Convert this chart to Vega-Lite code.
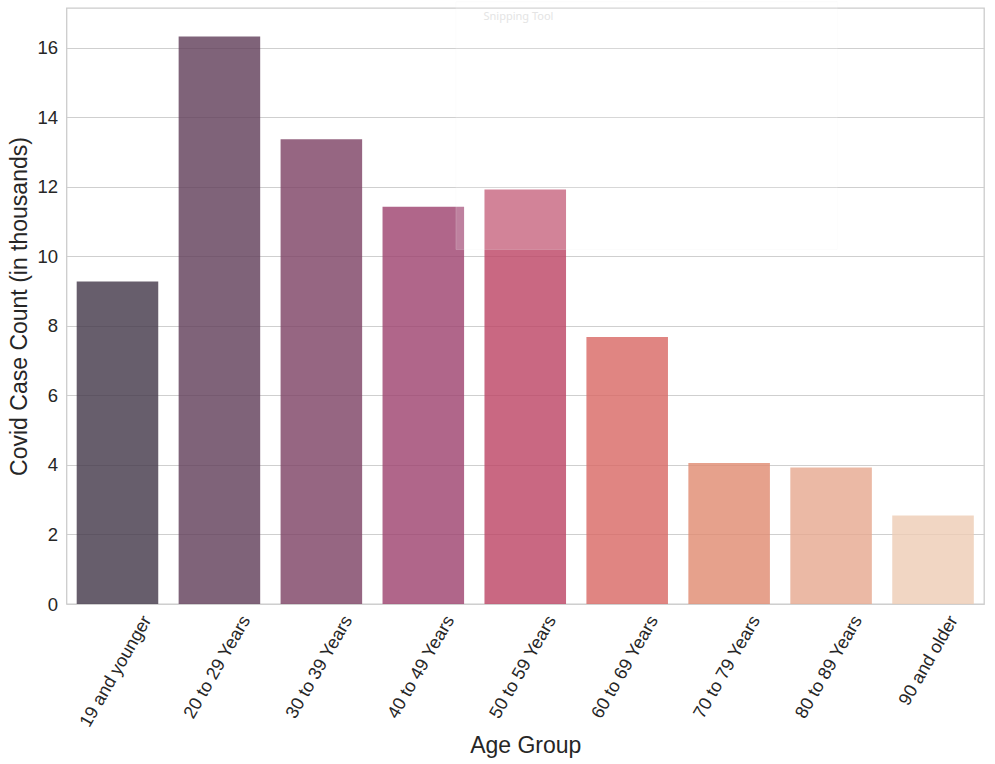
{
"$schema":"https://vega.github.io/schema/vega-lite/v6.json",
"width":917.5,"height":596,
"autosize":"none",
"padding":{"left":66.5,"top":8,"right":11,"bottom":160},
"background":"white",
"config":{"font":"Liberation Sans","view":{"stroke":"#cccccc","strokeWidth":1.3}},
"datasets":{
"bars":[
{"age":"19 and younger","cases":9.28},
{"age":"20 to 29 Years","cases":16.33},
{"age":"30 to 39 Years","cases":13.37},
{"age":"40 to 49 Years","cases":11.43},
{"age":"50 to 59 Years","cases":11.93},
{"age":"60 to 69 Years","cases":7.68},
{"age":"70 to 79 Years","cases":4.06},
{"age":"80 to 89 Years","cases":3.93},
{"age":"90 and older","cases":2.55}],
"overlay":[{"x0":3.82,"x1":7.56,"y0":10.2,"y1":17.33,"tx":4.09,"ty":16.89,"label":"Snipping Tool"}]
},
"layer":[
{"data":{"name":"bars"},
"mark":{"type":"bar","opacity":0.8},
"encoding":{
"x":{"field":"age","type":"nominal","sort":null,"scale":{"paddingInner":0.2,"paddingOuter":0.1},
"axis":{"title":"Age Group","labelAngle":-60,"labelAlign":"right","labelBaseline":"middle","labelFontSize":18,"labelColor":"#262626","labelPadding":13,"labelOffset":{"expr":"datum.label == '90 and older' ? 21 : datum.label == '19 and younger' ? 30 : 27"},"labelLimit":300,"titleFontSize":23,"titleFontWeight":"normal","titleColor":"#262626","ticks":false,"domain":false,"grid":false,"titlePadding":5}},
"y":{"field":"cases","type":"quantitative","scale":{"domain":[0,17.15],"nice":false},
"axis":{"title":"Covid Case Count (in thousands)","values":[0,2,4,6,8,10,12,14,16],"labelFontSize":18.5,"labelColor":"#262626","labelPadding":9,"titleFontSize":23,"titleFontWeight":"normal","titleColor":"#262626","ticks":false,"domain":false,"grid":true,"gridColor":"#cfcfcf","gridWidth":1.2,"titlePadding":5}},
"color":{"field":"age","type":"nominal","sort":null,"legend":null,"scale":{"range":["#413647","#5f3c57","#7c4063","#9c406d","#bc4263","#d86663","#e08a6f","#e6a78e","#eeccb4"]}}
}},
{"data":{"name":"overlay"},
"mark":{"type":"rect","fill":"#ffffff","fillOpacity":0.18,"stroke":"#eeeeee","strokeOpacity":0.2,"strokeWidth":1,"clip":false},
"encoding":{
"x":{"field":"x0","type":"quantitative","scale":{"domain":[0,9],"nice":false,"zero":false},"axis":null},
"x2":{"field":"x1"},
"y":{"field":"y0","type":"quantitative"},
"y2":{"field":"y1"}
}},
{"data":{"name":"overlay"},
"mark":{"type":"text","align":"left","baseline":"middle","fontSize":11,"color":"#e4e4e4","font":"Noto Sans"},
"encoding":{
"x":{"field":"tx","type":"quantitative","scale":{"domain":[0,9],"nice":false,"zero":false},"axis":null},
"y":{"field":"ty","type":"quantitative"},
"text":{"field":"label","type":"nominal"}
}}
],
"resolve":{"scale":{"x":"independent","color":"independent"},"axis":{"x":"independent"}}
}
